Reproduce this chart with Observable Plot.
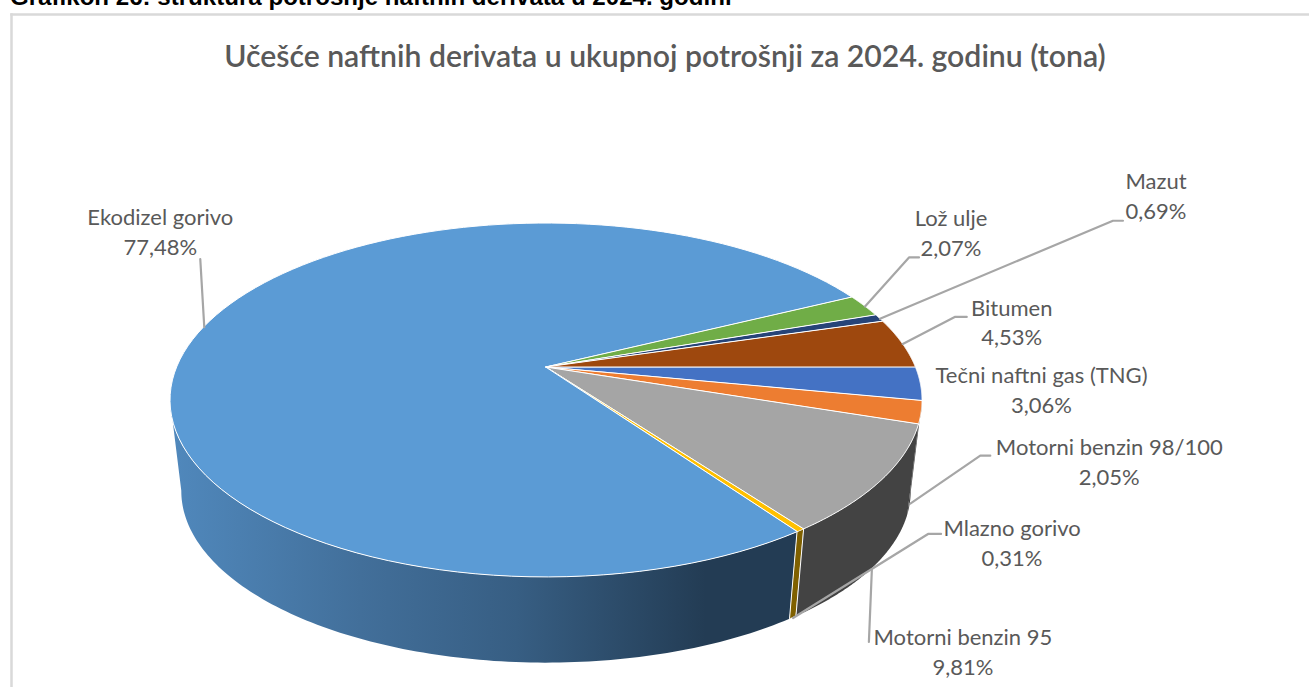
<!DOCTYPE html>
<html><head><meta charset="utf-8">
<script src="https://cdn.jsdelivr.net/npm/d3@7"></script>
<script src="https://cdn.jsdelivr.net/npm/@observablehq/plot@0.6"></script>
<style>
html,body{margin:0;padding:0;background:#fff;width:1309px;height:687px;overflow:hidden;position:relative}
#caption{position:absolute;left:10px;top:-17.5px;font:bold 24.1px "Liberation Sans",Arial,sans-serif;color:#000;white-space:nowrap}
#title{position:absolute;left:0;width:1330px;top:37px;text-align:center;font:600 30.2px Lato,sans-serif;color:#595959;white-space:nowrap}
svg{position:absolute;left:0;top:0}
</style></head><body>
<div id="chart"></div>
<div id="caption">Grafikon 26: struktura potrošnje naftnih derivata u 2024. godini</div>
<div id="title">Učešće naftnih derivata u ukupnoj potrošnji za 2024. godinu (tona)</div>
<script>
// Slices clockwise from the horizontal radius on the right
const categories = ["Tečni naftni gas (TNG)","Motorni benzin 98/100","Motorni benzin 95","Mlazno gorivo","Ekodizel gorivo","Lož ulje","Mazut","Bitumen"];
const shares = [3.06,2.05,9.81,0.31,77.48,2.07,0.69,4.53];
const topColors = ["#4472c4","#ed7d31","#a5a5a5","#ffc000","#5b9bd5","#70ad47","#264478","#9e480e"];
const wallColors = {1: "#434343", 2: "#434343", 3: "#7f6000", 4: "url(#wallBlue)"};
const wallOrder = [4, 1, 2, 3];
// Layout: where each label and leader sits, as pixel offsets from the slice's rim anchor
const anchorOnWall = [null,true,true,true,false,false,false,false];
const labelOffset = [[0,0],[199,-43],[91,81],[219,-77],[-44,-97],[86,-75],[276,-124],[109,-23]];
const elbowOffset = [null,[70,-48],[-3,73],[135,-84],[-4,-68],[44,-49],[233,-98],[52,-27]];
const tailOffset  = [null,[80,-48],null,[148,-84],null,[54,-49],[243,-98],[64,-27]];
const tngLabelPos = [1041,388];

const k = -0.1864, cx = 546, cy = 367, B = 369.4, A = 170.8;  // perspective of the pie's top face
const wallScale = 0.97, wallDrop = 92;
const wallEnd = 169.3 * Math.PI / 180;                         // silhouette at the left of the pie
const project = (t, f = 1, drop = 0) => {
  const d = 1 + k * Math.sin(t);
  return [f * Math.cos(t) / d, (f * A * Math.sin(t) / d + drop) / A];
};
const total = d3.sum(shares);
let acc = 0;
const slices = shares.map((v, i) => {
  const a0 = acc / total * 2 * Math.PI; acc += v;
  return {i, name: categories[i], value: v, a0, a1: acc / total * 2 * Math.PI};
});
const samples = (a0, a1) => d3.range(0, 121).map(j => a0 + (a1 - a0) * j / 120);
const topRows = slices.flatMap(s => samples(s.a0, s.a1).map(t => {
  const [x2, y2] = project(t);
  return {i: s.i, x1: 0, y1: 0, x2, y2};
}));
const wallRows = slices.filter(s => s.a0 < wallEnd).flatMap(s => samples(s.a0, Math.min(s.a1, wallEnd)).map(t => {
  const [x1, y1] = project(t);
  const [x2, y2] = project(t, wallScale, wallDrop);
  return {i: s.i, x1, y1, x2, y2};
}));
const px = d => d / B, py = d => d / A;
const leaders = [], labels = [];
slices.forEach(s => {
  const mid = (s.a0 + s.a1) / 2;
  const [ax, ay] = anchorOnWall[s.i] ? project(mid, wallScale, wallDrop) : project(mid);
  const fmt = s.value.toFixed(2).replace(".", ",") + "%";
  if (elbowOffset[s.i]) {
    leaders.push({i: s.i, x: ax, y: ay});
    leaders.push({i: s.i, x: ax + px(elbowOffset[s.i][0]), y: ay + py(elbowOffset[s.i][1])});
    if (tailOffset[s.i]) leaders.push({i: s.i, x: ax + px(tailOffset[s.i][0]), y: ay + py(tailOffset[s.i][1])});
    labels.push({x: ax + px(labelOffset[s.i][0]), y: ay + py(labelOffset[s.i][1]), text: s.name + "\n" + fmt});
  } else {
    labels.push({x: (tngLabelPos[0] - cx) / B, y: (tngLabelPos[1] - cy) / A, text: s.name + "\n" + fmt});
  }
});
const defs = () => {
  const ns = "http://www.w3.org/2000/svg";
  const el = document.createElementNS(ns, "defs");
  const g = document.createElementNS(ns, "linearGradient");
  g.setAttribute("id", "wallBlue");
  g.setAttribute("gradientUnits", "userSpaceOnUse");
  g.setAttribute("x1", 172); g.setAttribute("x2", 800); g.setAttribute("y1", 0); g.setAttribute("y2", 0);
  [[0,"#5088bc"],[0.3,"#426f9a"],[0.55,"#375e83"],[0.85,"#233c54"],[1,"#233c54"]].forEach(([o,c]) => {
    const st = document.createElementNS(ns, "stop");
    st.setAttribute("offset", o); st.setAttribute("stop-color", c); g.appendChild(st);
  });
  el.appendChild(g);
  return el;
};
const plot = Plot.plot({
  width: 1309, height: 687,
  marginLeft: 11, marginTop: 14, marginRight: 0, marginBottom: 0,
  x: {domain: [-1, 1], range: [cx - B, cx + B], axis: null},
  y: {domain: [-1, 1], range: [cy - A, cy + A], axis: null},
  style: {background: "transparent"},
  marks: [
    defs,
    Plot.frame({anchor: "left", stroke: "#d9d9d9", strokeWidth: 2.5}),
    Plot.frame({anchor: "top", stroke: "#d9d9d9", strokeWidth: 2.5}),
    ...wallOrder.map(i => Plot.area(wallRows.filter(r => r.i === i), {
      x1: "x1", y1: "y1", x2: "x2", y2: "y2", fill: wallColors[i],
      stroke: i === 3 ? "#fff" : "none", strokeWidth: 1
    })),
    ...slices.map(s => Plot.area(topRows.filter(r => r.i === s.i), {
      x1: "x1", y1: "y1", x2: "x2", y2: "y2", fill: topColors[s.i],
      stroke: "#fff", strokeWidth: 1, curve: "linear"
    })),
    Plot.line(leaders, {x: "x", y: "y", z: "i", stroke: "#a6a6a6", strokeWidth: 2.2}),
    Plot.text(labels, {
      x: "x", y: "y", text: "text", lineHeight: 1.364, fontSize: 22,
      fontFamily: "Lato, sans-serif", fill: "#595959", textAnchor: "middle"
    })
  ]
});
document.getElementById("chart").appendChild(plot);
</script>
</body></html>
